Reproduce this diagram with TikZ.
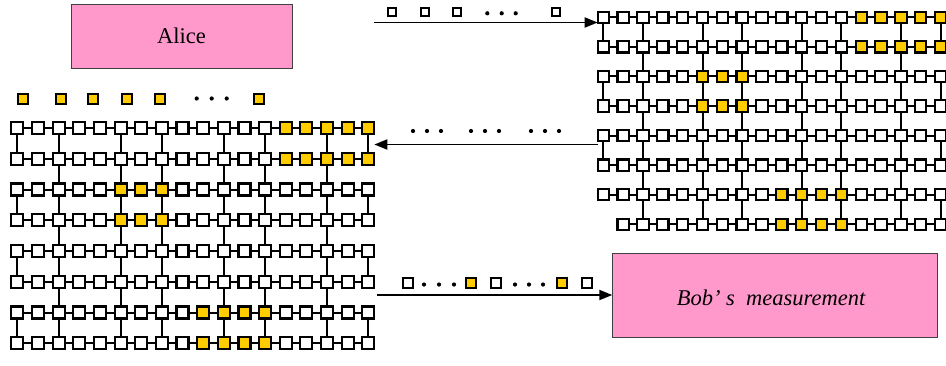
\documentclass[tikz,border=0pt]{standalone}
\usepackage{fontspec}
\setmainfont{Liberation Serif}
\usetikzlibrary{arrows.meta}
\definecolor{pinkfill}{HTML}{FF99CC}
\definecolor{qyellow}{HTML}{FFCC00}
\begin{document}
\begin{tikzpicture}[x=1pt,y=-1pt,
  lq/.style={draw=black, line width=2.1pt, minimum size=12pt, inner sep=0pt, outer sep=0pt},
  rq/.style={draw=black, line width=2.1pt, minimum size=11.3pt, inner sep=0pt, outer sep=0pt},
  sq/.style={draw=black, line width=2pt, minimum size=#1, inner sep=0pt, fill=white},
  sq/.default=8.3pt,
  qedge/.style={line width=2pt},
  qdot/.style={circle, fill=black, inner sep=0pt, minimum size=4.2pt},
  arr/.style={line width=1.9pt, -{Triangle[length=13pt,width=10pt]}},
  pbox/.style={draw=black!75, line width=0.8pt, fill=pinkfill, inner sep=0pt}]
\useasboundingbox (0,0) rectangle (946,365);

% boxes
\node[pbox, minimum width=221pt, minimum height=64pt, font=\fontsize{22.5}{26}\selectfont] (alice) at (181.5,36) {Alice};
\node[pbox, minimum width=324.6pt, minimum height=83.7pt] (bob) at (775,295.2) {};
\node[font=\fontsize{22.5}{26}\selectfont\itshape, anchor=center] (bobtext) at (771,298) {Bob’ s\ \ measurement};

% left lattice
\foreach \j in {0,...,7}{
  \foreach \i in {0,...,17}{
    \pgfmathtruncatemacro\isy{((\j<2)&&(\i>12)) || ((\j>1)&&(\j<4)&&(\i>4)&&(\i<8)) || ((\j>5)&&(\i>8)&&(\i<13))}
    \ifnum\isy=1 \def\fc{qyellow}\else\def\fc{white}\fi
    \node[lq, fill=\fc] (L-\j-\i) at ({17.3+20.65*\i},{128+30.75*\j}) {};
  }
}
\foreach \j in {0,...,7}{
  \foreach \i [evaluate=\i as \k using int(\i+1)] in {0,...,16}
    \draw[qedge] (L-\j-\i) -- (L-\j-\k);
}
\foreach \j [evaluate=\j as \jn using int(\j+1)] in {0,...,6}{
  \foreach \i in {2,5,7,10,12,15}
    \draw[qedge] (L-\j-\i) -- (L-\jn-\i);
}
\foreach \j [evaluate=\j as \jn using int(\j+1)] in {0,2,4,6}{
  \foreach \i in {0,17}
    \draw[qedge] (L-\j-\i) -- (L-\jn-\i);
}

% right lattice
\foreach \j in {0,...,7}{
  \foreach \i in {0,...,17}{
    \pgfmathtruncatemacro\skip{(\j==7)&&(\i==0)}
    \ifnum\skip=0
    \pgfmathtruncatemacro\isy{((\j<2)&&(\i>12)) || ((\j>1)&&(\j<4)&&(\i>4)&&(\i<8)) || ((\j>5)&&(\i>8)&&(\i<13))}
    \ifnum\isy=1 \def\fc{qyellow}\else\def\fc{white}\fi
    \node[rq, fill=\fc] (R-\j-\i) at ({603.3+19.84*\i},{17.3+29.57*\j}) {};
    \fi
  }
}
\foreach \j in {0,...,6}{
  \foreach \i [evaluate=\i as \k using int(\i+1)] in {0,...,16}
    \draw[qedge] (R-\j-\i) -- (R-\j-\k);
}
\foreach \i [evaluate=\i as \k using int(\i+1)] in {1,...,16}
  \draw[qedge] (R-7-\i) -- (R-7-\k);
\foreach \j [evaluate=\j as \jn using int(\j+1)] in {0,...,6}{
  \foreach \i in {2,5,7,10,12,15}
    \draw[qedge] (R-\j-\i) -- (R-\jn-\i);
}
\foreach \j [evaluate=\j as \jn using int(\j+1)] in {0,2,4,6}
  \draw[qedge] (R-\j-17) -- (R-\jn-17);
\foreach \j [evaluate=\j as \jn using int(\j+1)] in {0,2,4}
  \draw[qedge] (R-\j-0) -- (R-\jn-0);

% top arrow with qubits
\node[sq] (t1) at (391.7,11.7) {};
\node[sq] (t2) at (425,11.7) {};
\node[sq] (t3) at (457.3,11.7) {};
\node[qdot] (td1) at (487.3,13.3) {};
\node[qdot] (td2) at (501.7,13.3) {};
\node[qdot] (td3) at (515.7,13.3) {};
\node[sq] (t4) at (555.7,11.7) {};
\coordinate (ta) at (374,22.5);
\draw[arr] (ta) -- (ta -| R-0-0.west);

% yellow qubits above left lattice
\foreach \x [count=\n] in {22.7,61,93.3,126.7,160,259}
  \node[sq=10pt, fill=qyellow] (y\n) at (\x,99) {};
\foreach \x [count=\n] in {196.7,211.7,226.7}
  \node[qdot] (yd\n) at (\x,98.5) {};

% middle arrow with dots
\foreach \x [count=\n] in {413,427,441,471,485,499,531,545,559}
  \node[qdot] (md\n) at (\x,131) {};
\coordinate (ma) at (R-4-0.west |- 0,144.5);
\draw[arr] (ma) -- (ma -| L-1-17.east);

% bottom arrow with qubits
\node[sq=10pt] (b1) at (408.3,283.3) {};
\node[sq=10pt, fill=qyellow] (b2) at (471,283.3) {};
\node[sq=10pt] (b3) at (496,283.3) {};
\node[sq=10pt, fill=qyellow] (b4) at (561.7,283.3) {};
\node[sq=10pt] (b5) at (587.3,283.3) {};
\foreach \x [count=\n] in {424,439,454,515,529,543}
  \node[qdot] (bd\n) at (\x,284.5) {};
\coordinate (ba) at (376.7,295);
\draw[arr] (ba) -- (ba -| bob.west);
\end{tikzpicture}
\end{document}
